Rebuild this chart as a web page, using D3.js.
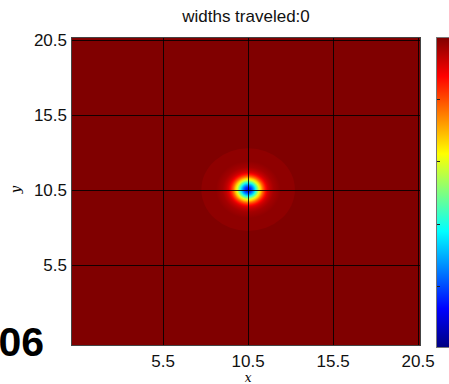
<!DOCTYPE html>
<html>
<head>
<meta charset="utf-8">
<script src="https://cdn.jsdelivr.net/npm/d3@7"></script>
<style>
  body { margin: 0; background: #fff; }
  text { font-family: 'Liberation Sans', Arial, sans-serif; }
</style>
</head>
<body>
<div id="chart"></div>
<script>
// axis ticks
const xTicks = [5.5, 10.5, 15.5, 20.5]
const yTicks = [5.5, 10.5, 15.5, 20.5]
const cbarTicks = [0.2, 0.4, 0.6, 0.8]

// pulse centre and radial profile (radius in widths, value on colour scale)
const centre = [10.5, 10.5]
const profileR = [0, 0.15, 0.25, 0.35, 0.45, 0.55, 0.65, 0.75, 0.85, 0.95, 1.05, 1.15, 1.3, 1.5, 1.9]
const profileV = [0.12, 0.16, 0.22, 0.3, 0.4, 0.5, 0.6, 0.68, 0.76, 0.82, 0.87, 0.91, 0.94, 0.965, 0.985]
const haloR = 2.75
const haloV = 0.985
const backgroundV = 1.0

const width = 449
const height = 384
const margin = { top: 37, left: 71, right: 28, bottom: 38 }

const svg = d3
  .select('#chart')
  .append('svg')
  .attr('width', width)
  .attr('height', height)

const x = d3.scaleLinear().domain([0.08, 20.67]).range([margin.left, width - margin.right])
const y = d3.scaleLinear().domain([0.08, 20.67]).range([height - margin.bottom, margin.top])

// matlab jet
const jet = d3
  .scaleLinear()
  .domain([0, 0.125, 0.375, 0.625, 0.875, 1])
  .range(['#000080', '#0000ff', '#00ffff', '#ffff00', '#ff0000', '#800000'])
  .clamp(true)

const defs = svg.append('defs')

defs
  .append('clipPath')
  .attr('id', 'plot-clip')
  .append('rect')
  .attr('x', x.range()[0])
  .attr('y', y.range()[1])
  .attr('width', x.range()[1] - x.range()[0])
  .attr('height', y.range()[0] - y.range()[1])

const maxR = profileR[profileR.length - 1]
const blobGrad = defs.append('radialGradient').attr('id', 'blob')
blobGrad
  .selectAll('stop')
  .data(profileR)
  .enter()
  .append('stop')
  .attr('offset', d => d / maxR)
  .attr('stop-color', (d, i) => jet(profileV[i]))

const plot = svg.append('g').attr('clip-path', 'url(#plot-clip)')

plot
  .append('rect')
  .attr('x', x.range()[0])
  .attr('y', y.range()[1])
  .attr('width', x.range()[1] - x.range()[0])
  .attr('height', y.range()[0] - y.range()[1])
  .attr('fill', jet(backgroundV))

plot
  .append('ellipse')
  .attr('cx', x(centre[0]))
  .attr('cy', y(centre[1]))
  .attr('rx', x(centre[0] + haloR) - x(centre[0]))
  .attr('ry', y(centre[1]) - y(centre[1] + haloR))
  .attr('fill', jet(haloV))

plot
  .append('ellipse')
  .attr('cx', x(centre[0]))
  .attr('cy', y(centre[1]))
  .attr('rx', x(centre[0] + maxR) - x(centre[0]))
  .attr('ry', y(centre[1]) - y(centre[1] + maxR))
  .attr('fill', 'url(#blob)')

// grid
plot
  .selectAll('.vgrid')
  .data(xTicks)
  .enter()
  .append('line')
  .attr('x1', d => Math.round(x(d)) + 0.5)
  .attr('x2', d => Math.round(x(d)) + 0.5)
  .attr('y1', y.range()[0])
  .attr('y2', y.range()[1])
  .attr('stroke', '#000')
  .attr('stroke-opacity', 0.85)

plot
  .selectAll('.hgrid')
  .data(yTicks)
  .enter()
  .append('line')
  .attr('y1', d => Math.round(y(d)) + 0.5)
  .attr('y2', d => Math.round(y(d)) + 0.5)
  .attr('x1', x.range()[0])
  .attr('x2', x.range()[1])
  .attr('stroke', '#000')
  .attr('stroke-opacity', 0.85)

svg
  .append('rect')
  .attr('x', x.range()[0] + 0.5)
  .attr('y', y.range()[1] + 0.5)
  .attr('width', x.range()[1] - x.range()[0] - 1)
  .attr('height', y.range()[0] - y.range()[1] - 1)
  .attr('fill', 'none')
  .attr('stroke', '#444')

// tick labels
svg
  .selectAll('.xlab')
  .data(xTicks)
  .enter()
  .append('text')
  .attr('x', d => x(d))
  .attr('y', 367)
  .attr('text-anchor', 'middle')
  .attr('font-size', 17)
  .attr('fill', '#111')
  .text(d => d)

svg
  .selectAll('.ylab')
  .data(yTicks)
  .enter()
  .append('text')
  .attr('x', 67)
  .attr('y', d => y(d))
  .attr('dy', '0.36em')
  .attr('text-anchor', 'end')
  .attr('font-size', 17)
  .attr('fill', '#111')
  .text(d => d)

svg
  .append('text')
  .attr('x', 246)
  .attr('y', 22)
  .attr('text-anchor', 'middle')
  .attr('font-size', 17)
  .attr('fill', '#111')
  .text('widths traveled:0')

svg
  .append('text')
  .attr('x', x(10.5))
  .attr('y', 382)
  .attr('text-anchor', 'middle')
  .style('font-family', "'DejaVu Serif', serif")
  .style('font-style', 'italic')
  .attr('font-size', 12)
  .text('x')

svg
  .append('text')
  .attr('transform', 'translate(20,' + y(10.5) + ') rotate(-90)')
  .attr('text-anchor', 'middle')
  .style('font-family', "'DejaVu Serif', serif")
  .style('font-style', 'italic')
  .attr('font-size', 13)
  .text('y')

svg
  .append('text')
  .attr('x', 44)
  .attr('y', 356)
  .attr('text-anchor', 'end')
  .attr('font-size', 41)
  .attr('font-weight', 'bold')
  .attr('fill', '#000')
  .text('06')

// colour bar
const cb = d3.scaleLinear().domain([0, 1]).range([348, 37])
const cbGrad = defs
  .append('linearGradient')
  .attr('id', 'cbar')
  .attr('x1', 0)
  .attr('x2', 0)
  .attr('y1', 1)
  .attr('y2', 0)
cbGrad
  .selectAll('stop')
  .data(jet.domain())
  .enter()
  .append('stop')
  .attr('offset', d => d)
  .attr('stop-color', d => jet(d))

svg
  .append('rect')
  .attr('x', 436.5)
  .attr('y', cb(1) + 0.5)
  .attr('width', 20)
  .attr('height', cb(0) - cb(1) - 1)
  .attr('fill', 'url(#cbar)')
  .attr('stroke', '#777')

svg
  .selectAll('.cbtick')
  .data(cbarTicks)
  .enter()
  .append('line')
  .attr('x1', 437)
  .attr('x2', 440)
  .attr('y1', d => Math.round(cb(d)) + 0.5)
  .attr('y2', d => Math.round(cb(d)) + 0.5)
  .attr('stroke', '#222')
</script>
</body>
</html>
